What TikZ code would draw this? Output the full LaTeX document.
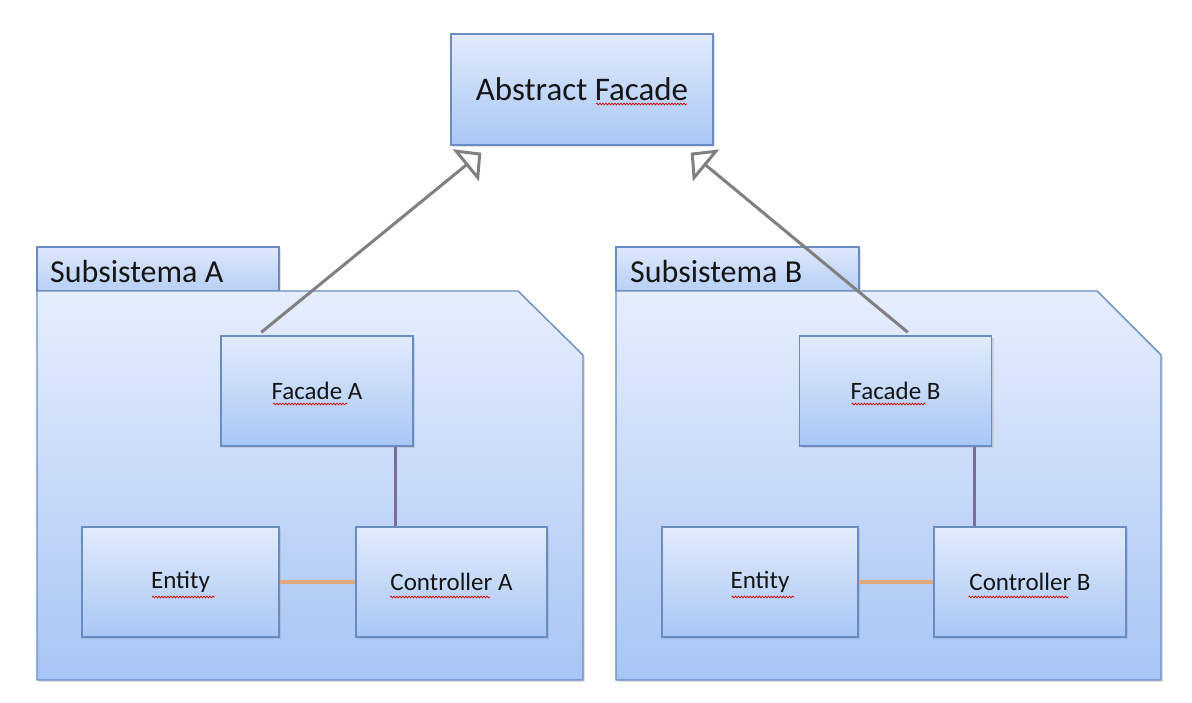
\documentclass[tikz,border=0pt]{standalone}
\usepackage{fontspec}
\setmainfont{Carlito}
\usetikzlibrary{arrows.meta,shadows,calc,decorations.pathmorphing}

\definecolor{boxtop}{HTML}{E1EBFC}
\definecolor{boxbot}{HTML}{A9C7F5}
\definecolor{pkgtop}{HTML}{E6EEFD}
\definecolor{pkgbot}{HTML}{A7C5F4}
\definecolor{tabtop}{HTML}{DFE8FC}
\definecolor{tabbot}{HTML}{B7CFF6}
\definecolor{edge}{HTML}{6A8CC3}
\definecolor{inherit}{HTML}{808080}
\definecolor{assocv}{HTML}{7E6B9C}
\definecolor{assoch}{HTML}{E2A97C}
\definecolor{ink}{HTML}{151515}

\tikzset{
  softshadow/.style={drop shadow={opacity=0.22, shadow xshift=2pt, shadow yshift=-2pt}},
  classbox/.style={draw=edge, line width=1.4pt, top color=boxtop, bottom color=boxbot,
    minimum width=192pt, minimum height=110pt, text=ink,
    font=\fontsize{25}{30}\selectfont, softshadow},
  pkgbody/.style={draw=edge, line width=1.4pt, top color=pkgtop, bottom color=pkgbot, softshadow},
  pkgtab/.style={draw=edge, line width=1.4pt, top color=tabtop, bottom color=tabbot, softshadow},
  pkglabel/.style={anchor=base west, inner sep=0pt, text=ink, font=\fontsize{32}{38}\selectfont},
  generalization/.style={draw=inherit, line width=3pt,
    -{Triangle[open, length=20pt, width=41pt, line width=3pt]}},
  vlink/.style={draw=assocv, line width=3pt},
  hlink/.style={draw=assoch, line width=4.5pt},
  spell/.style={draw=red!85!black, line width=0.7pt, decorate,
    decoration={snake, segment length=3pt, amplitude=0.9pt}},
}

\begin{document}
\begin{tikzpicture}[x=1pt, y=-1pt]
  \useasboundingbox (0,0) rectangle (1192,703);
  \fill[white] (0,0) rectangle (1192,703);

  % package A
  \path[pkgtab] (37,247) rectangle (279,291);
  \path[pkgbody] (37,291) -- (518,291) -- (583,355) -- (583,680) -- (37,680) -- cycle;
  \node[pkglabel] (pkgA) at (50,283) {Subsistema A};

  % package B
  \path[pkgtab] (616,247) rectangle (859,291);
  \path[pkgbody] (616,291) -- (1097,291) -- (1161,355) -- (1161,680) -- (616,680) -- cycle;
  \node[pkglabel] (pkgB) at (630,283) {Subsistema B};

  % classes
  \node[classbox, minimum width=262pt, minimum height=111pt,
        font=\fontsize{33}{38}\selectfont] (abs) at (582,89.5) {Abstract Facade};

  \node[classbox] (fa) at (317,391) {Facade A};
  \node[classbox, minimum width=197pt] (ea) at (180.5,582) {Entity};
  \node[classbox, minimum width=191pt] (ca) at (451.5,582) {Controller A};

  \node[classbox] (fb) at (895.5,391) {Facade B};
  \node[classbox, minimum width=196pt] (eb) at (760,582) {Entity};
  \node[classbox] (cb) at (1030,582) {Controller B};

  % spelling marks under words
  \draw[spell] ($(abs.center)+(14,14.5)$) -- ($(abs.center)+(105,14.5)$);
  \draw[spell] ($(fa.center)+(-44,13)$) -- ($(fa.center)+(30,13)$);
  \draw[spell] ($(fb.center)+(-44,13)$) -- ($(fb.center)+(30,13)$);
  \draw[spell] ($(ea.center)+(-28.5,15)$) -- ($(ea.center)+(34.5,15)$);
  \draw[spell] ($(eb.center)+(-28.5,15)$) -- ($(eb.center)+(34.5,15)$);
  \draw[spell] ($(ca.center)+(-61.5,15)$) -- ($(ca.center)+(38.5,15)$);
  \draw[spell] ($(cb.center)+(-61.5,15)$) -- ($(cb.center)+(38.5,15)$);

  % associations inside the packages
  \coordinate (fa-out) at ($(fa.south east)+(-18,0)$);
  \coordinate (fb-out) at ($(fb.south east)+(-18,0)$);
  \draw[vlink] (fa-out) -- (fa-out |- ca.north);
  \draw[vlink] (fb-out) -- (fb-out |- cb.north);
  \draw[hlink] (ea.east) -- (ca.west);
  \draw[hlink] (eb.east) -- (cb.west);

  % generalizations to the abstract facade
  \coordinate (fa-up) at ($(fa.north west)+(41,-3)$);
  \coordinate (fb-up) at ($(fb.north west)+(109,-3)$);
  \coordinate (abs-inA) at ($(abs.south west)+(31,7)$);
  \coordinate (abs-inB) at ($(abs.south east)+(-23,7)$);
  \draw[generalization] (fa-up) -- (abs-inA);
  \draw[generalization] (fb-up) -- (abs-inB);
\end{tikzpicture}
\end{document}
